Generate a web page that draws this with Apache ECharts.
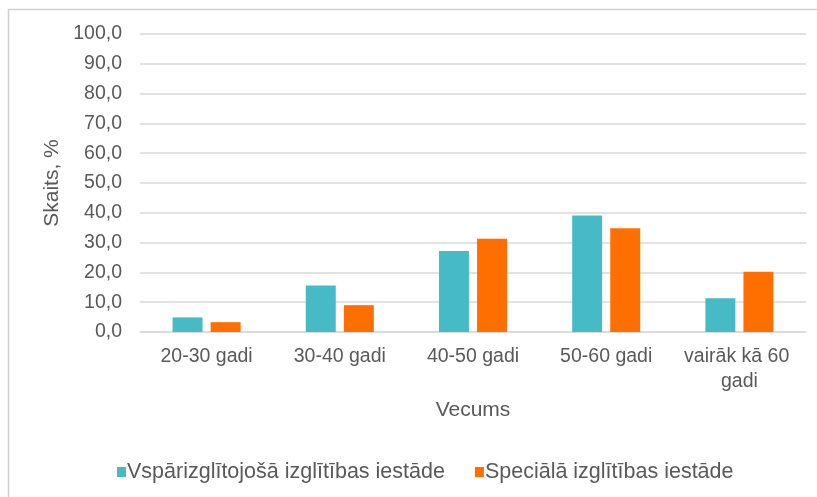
<!DOCTYPE html>
<html>
<head>
<meta charset="utf-8">
<script src="https://cdn.jsdelivr.net/npm/echarts@6/dist/echarts.min.js"></script>
<style>
html,body{margin:0;padding:0;background:#fff;}
#c{width:817px;height:497px;}
</style>
</head>
<body>
<div id="c"></div>
<script>
const categories = ["20-30 gadi", "30-40 gadi", "40-50 gadi", "50-60 gadi", "vairāk kā 60 gadi"];
const seriesNames = ["Vspārizglītojošā izglītības iestāde", "Speciālā izglītības iestāde"];
const general = [4.9, 15.6, 27.2, 39.1, 11.3];
const special = [3.3, 9.0, 31.3, 34.8, 20.2];
const yTicks = [0, 10, 20, 30, 40, 50, 60, 70, 80, 90, 100];

const font = "Liberation Sans, Arial, sans-serif";
const txt = "#595959";
const chart = echarts.init(document.getElementById('c'));
chart.setOption({
  animation: false,
  textStyle: { fontFamily: font },
  graphic: [{
    type: 'rect', shape: { x: 8.5, y: 9.5, width: 900, height: 600 },
    style: { fill: 'none', stroke: '#d0d0d0', lineWidth: 1.5 }, silent: true
  }],
  grid: { left: 140, right: 11, top: 34, bottom: 165 },
  legend: {
    data: seriesNames, left: 112, top: 456,
    itemWidth: 9, itemHeight: 10, itemGap: 30, icon: 'rect',
    textStyle: { color: txt, fontSize: 21.5, fontFamily: font, padding: [0, 0, 0, -4] }
  },
  xAxis: {
    type: 'category', data: categories,
    name: 'Vecums', nameLocation: 'middle', nameGap: 68,
    nameTextStyle: { color: txt, fontSize: 21, fontFamily: font },
    axisLine: { lineStyle: { color: '#d9d9d9', width: 1.5 } },
    axisTick: { show: false },
    axisLabel: { color: txt, fontSize: 19.5, fontFamily: font, margin: 12, width: 130, overflow: 'break', lineHeight: 25, interval: 0 }
  },
  yAxis: {
    type: 'value', min: 0, max: 100, interval: 10,
    name: 'Skaits, %', nameLocation: 'middle', nameGap: 76,
    nameTextStyle: { color: txt, fontSize: 21, fontFamily: font },
    axisLine: { show: false }, axisTick: { show: false },
    splitLine: { lineStyle: { color: '#d9d9d9', width: 1.5 } },
    axisLabel: { color: txt, fontSize: 19.5, fontFamily: font, margin: 18,
      formatter: v => yTicks.includes(v) ? v.toFixed(1).replace('.', ',') : '' }
  },
  series: [
    { name: seriesNames[0], type: 'bar', data: general, barWidth: '22.5%', barGap: '27%',
      itemStyle: { color: '#47bbc5' } },
    { name: seriesNames[1], type: 'bar', data: special, barWidth: '22.5%',
      itemStyle: { color: '#ff6f00' } }
  ]
});
</script>
</body>
</html>
